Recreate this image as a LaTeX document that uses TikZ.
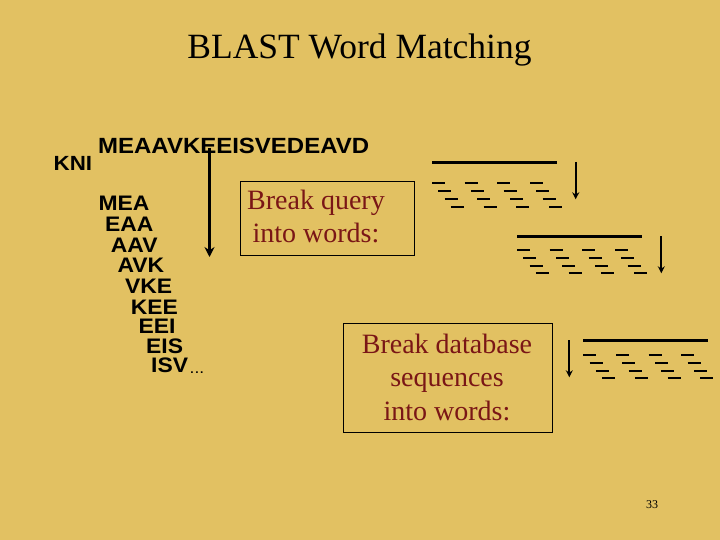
\documentclass[tikz,border=0pt]{standalone}
\usepackage{fontspec}
\setmainfont{Liberation Serif}
\newfontfamily\arialfont{Liberation Sans}[FakeStretch=1.09]
\usetikzlibrary{arrows.meta}
\definecolor{bg}{RGB}{226,193,98}
\definecolor{boxred}{RGB}{122,22,22}
\tikzset{
  seqtxt/.style={inner sep=0pt, anchor=base west, font=\arialfont\bfseries\fontsize{22}{22}\selectfont},
  wordtxt/.style={inner sep=0pt, anchor=base west, font=\arialfont\bfseries\fontsize{21}{21}\selectfont},
  infobox/.style={draw=black, line width=0.8pt, anchor=north west, inner sep=0pt},
  boxtxt/.style={text=boxred, align=center, inner sep=0pt, font=\fontsize{28}{33.3}\selectfont},
  bigarrow/.style={line width=3.2pt, -{Stealth[length=10pt,width=10pt]}},
  smallarrow/.style={line width=2pt, -{Stealth[length=7pt,width=7pt]}},
  seqline/.style={line width=2.7pt},
  dashseg/.style={line width=2pt},
  pics/seqicon/.style={code={
    \draw[seqline] (0,0) -- (124.5,0);
    \foreach \r in {0,...,3}{
      \foreach \c in {0,...,3}{
        \draw[dashseg] ({\r*6.3+\c*32.7},{#1+\r*7.8}) -- ++(13,0);
      }
    }
  }}
}
\begin{document}
\begin{tikzpicture}[x=1pt,y=-1pt]
\fill[bg] (0,0) rectangle (720,540);
\useasboundingbox (0,0) rectangle (720,540);

% title
\node[anchor=base, inner sep=0pt, font=\fontsize{35.5}{40}\selectfont] (title) at (359.5,58.3) {BLAST Word Matching};

% query
\node[seqtxt] (query) at (98,153.5) {MEAAVKEEISVEDEAVD};
\node[seqtxt, font=\arialfont\bfseries\fontsize{20.5}{20.5}\selectfont] (kni) at (53.5,170.5) {KNI};

% words
\foreach \w/\x/\y in {MEA/98.3/210.7, EAA/105/231.7, AAV/110.7/252.3, AVK/117.3/272.7,
  VKE/125/293.3, KEE/130.7/314, EEI/138.3/333.3, EIS/146/353.3, ISV/151/372.7}
  \node[wordtxt] (w\w) at (\x,\y) {\w};
\node[inner sep=0pt, font=\arialfont\fontsize{16}{16}\selectfont] (dots) at (197,373) {...};

% big arrow
\coordinate (bigtop) at (209.5,148);
\coordinate (bigtip) at (209.5,257);
\draw[bigarrow] (bigtop) -- (bigtip);

% boxes
\node[infobox, minimum width=174pt, minimum height=74.3pt] (qbox) at (240,180.7) {};
\node[boxtxt, anchor=base] (qtext) at (316,242.7) {Break query\\into words:};
\node[infobox, minimum width=209.3pt, minimum height=108.7pt] (dbox) at (342.7,323.3) {};
\node[boxtxt, anchor=base] (dtext) at (447,420) {Break database\\sequences\\into words:};

% sequence icons
\pic at (432,162.3) {seqicon=21};
\pic at (517,236.3) {seqicon=13.7};
\pic at (583.3,340.3) {seqicon=14.7};

\coordinate (a1s) at (575.7,162); \coordinate (a1e) at (575.7,199.3);
\coordinate (a2s) at (661.3,236.3); \coordinate (a2e) at (661.3,273.3);
\coordinate (a3s) at (569.3,340); \coordinate (a3e) at (569.3,377.3);
\draw[smallarrow] (a1s) -- (a1e);
\draw[smallarrow] (a2s) -- (a2e);
\draw[smallarrow] (a3s) -- (a3e);

% page number
\node[inner sep=0pt, font=\fontsize{12}{12}\selectfont] (page) at (652,505) {33};
\end{tikzpicture}
\end{document}
